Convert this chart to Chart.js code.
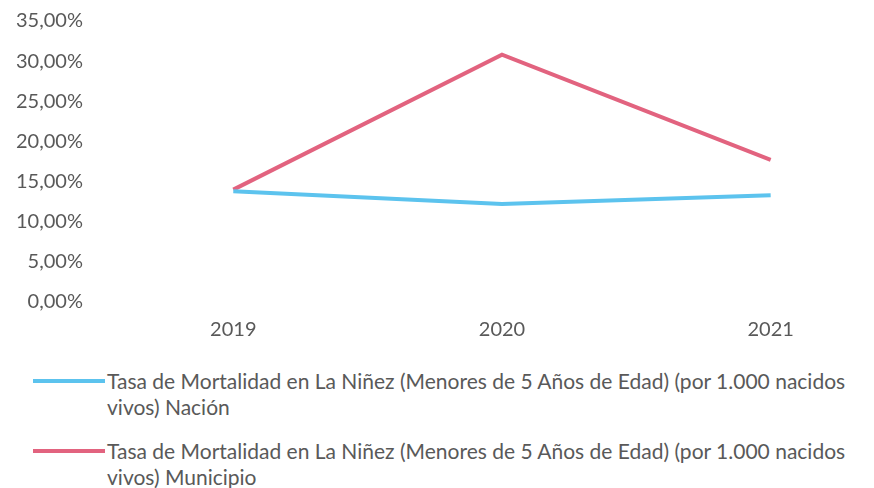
<!DOCTYPE html>
<html>
<head>
<meta charset="utf-8">
<script src="https://cdn.jsdelivr.net/npm/chart.js@4"></script>
<style>
  html, body { margin: 0; padding: 0; background: #fff; overflow: hidden; width: 874px; height: 488px; }
  #wrap { position: absolute; left: 0; top: -7px; width: 910px; height: 365px; }
  #legend { position: absolute; left: 33px; top: 368px; width: 841px; font-family: Lato, "Open Sans", sans-serif; font-size: 21px; color: #595959; }
  .item { display: flex; align-items: flex-start; margin-bottom: 18px; line-height: 26px; }
  .swatch { flex: 0 0 auto; width: 72px; height: 4px; margin-top: 11px; margin-right: 2px; }
</style>
</head>
<body>
<div id="wrap"><canvas id="chart"></canvas></div>
<div id="legend"></div>
<script>
const years = ["2019", "2020", "2021"];
const nacion = [13.8, 12.2, 13.3];
const municipio = [14.0, 30.8, 17.7];
const seriesNames = [
  "Tasa de Mortalidad en La Niñez (Menores de 5 Años de Edad) (por 1.000 nacidos vivos) Nación",
  "Tasa de Mortalidad en La Niñez (Menores de 5 Años de Edad) (por 1.000 nacidos vivos) Municipio"
];
const seriesColors = ["#5cc3ee", "#e2637f"];

const ctx = document.getElementById("chart").getContext("2d");
const chart = new Chart(ctx, {
  type: "line",
  data: {
    labels: years,
    datasets: [
      { label: seriesNames[0], data: nacion, borderColor: seriesColors[0], backgroundColor: seriesColors[0], borderWidth: 4, pointRadius: 0, tension: 0 },
      { label: seriesNames[1], data: municipio, borderColor: seriesColors[1], backgroundColor: seriesColors[1], borderWidth: 4, pointRadius: 0, tension: 0 }
    ]
  },
  options: {
    responsive: true,
    maintainAspectRatio: false,
    animation: false,
    layout: { padding: { left: 0, top: 1, right: 5, bottom: 0 } },
    plugins: { legend: { display: false }, tooltip: { enabled: false } },
    scales: {
      x: {
        offset: true,
        grid: { display: false, offset: true, drawTicks: false },
        border: { display: false },
        ticks: { color: "#595959", font: { family: "Lato", size: 20 }, padding: 16 }
      },
      y: {
        min: 0,
        max: 35,
        grid: { display: false, drawTicks: false },
        border: { display: false },
        ticks: {
          stepSize: 5,
          color: "#595959",
          padding: 16,
          font: { family: "Lato", size: 20 },
          callback: (v) => v.toFixed(2).replace(".", ",") + "%"
        }
      }
    }
  }
});

// legend built from the datasets so it can wrap like the original
const legend = document.getElementById("legend");
chart.data.datasets.forEach((ds) => {
  const item = document.createElement("div");
  item.className = "item";
  const sw = document.createElement("div");
  sw.className = "swatch";
  sw.style.background = ds.borderColor;
  const txt = document.createElement("div");
  txt.textContent = ds.label;
  item.appendChild(sw);
  item.appendChild(txt);
  legend.appendChild(item);
});
</script>
</body>
</html>
